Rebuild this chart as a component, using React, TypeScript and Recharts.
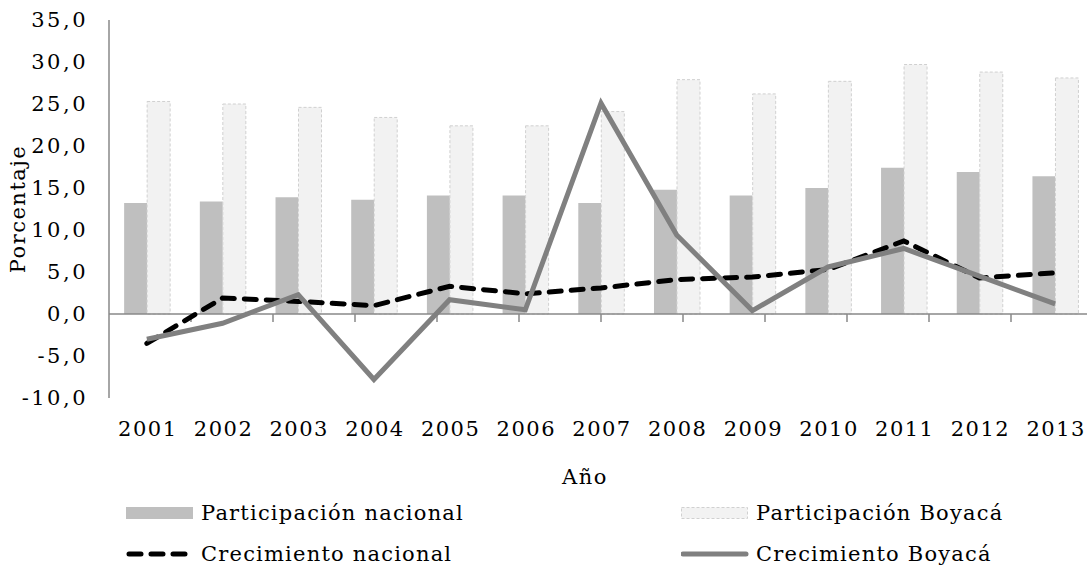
import { Bar, ComposedChart, Line, ReferenceLine, XAxis, YAxis } from 'recharts'

const years = ['2001', '2002', '2003', '2004', '2005', '2006', '2007', '2008', '2009', '2010', '2011', '2012', '2013']
const participacionNacional = [13.2, 13.4, 13.9, 13.6, 14.1, 14.1, 13.2, 14.8, 14.1, 15.0, 17.4, 16.9, 16.4]
const participacionBoyaca = [25.3, 25.0, 24.6, 23.4, 22.4, 22.4, 24.1, 27.9, 26.2, 27.7, 29.7, 28.8, 28.1]
const crecimientoNacional = [-3.5, 1.9, 1.5, 1.0, 3.3, 2.4, 3.1, 4.1, 4.4, 5.3, 8.7, 4.3, 4.9]
const crecimientoBoyaca = [-3.0, -1.1, 2.3, -7.8, 1.7, 0.5, 25.1, 9.4, 0.4, 5.6, 7.8, 4.5, 1.2]
const yTicks = [-10, -5, 0, 5, 10, 15, 20, 25, 30, 35]

const data = years.map((year, i) => ({
  year,
  partNac: participacionNacional[i],
  partBoy: participacionBoyaca[i],
  crecNac: crecimientoNacional[i],
  crecBoy: crecimientoBoyaca[i],
}))

// category boundaries, for the Excel-style ticks between years
const boundaries = years.slice(1).map((_, i) => i + 1)

const FONT = '"DejaVu Serif", serif'
const AXIS = '#898989'
const textStyle = { fontFamily: FONT, fontSize: 21, fill: '#000', letterSpacing: '1.5px' }

const fmt = (v: number) => v.toFixed(1).replace('.', ',')

function Swatch({ kind }: { kind: string }) {
  return (
    <svg width={68} height={14} style={{ display: 'block' }}>
      {kind === 'barNac' && <rect x={0} y={1} width={67} height={12} fill="#bfbfbf" />}
      {kind === 'barBoy' && (
        <rect x={0.5} y={1.5} width={66} height={11} fill="#f2f2f2" stroke="#d0d0d0" strokeDasharray="3 2" />
      )}
      {kind === 'lineNac' && (
        <line x1={3} y1={7} x2={64} y2={7} stroke="#000" strokeWidth={5} strokeDasharray="12 10" strokeLinecap="round" />
      )}
      {kind === 'lineBoy' && <line x1={2} y1={7} x2={65} y2={7} stroke="#808080" strokeWidth={5} strokeLinecap="round" />}
    </svg>
  )
}

function LegendItem({ kind, label, x, y }: { kind: string; label: string; x: number; y: number }) {
  return (
    <div style={{ position: 'absolute', left: x, top: y - 12, height: 24, display: 'flex', alignItems: 'center' }}>
      <Swatch kind={kind} />
      <span
        style={{ marginLeft: 7, fontFamily: FONT, fontSize: 21, letterSpacing: '1.2px', color: '#000', whiteSpace: 'nowrap' }}
      >
        {label}
      </span>
    </div>
  )
}

export default function App() {
  return (
    <div style={{ position: 'absolute', left: 0, top: 0, width: 1087, height: 570, overflow: 'hidden', background: '#fff' }}>
      <ComposedChart
        width={1100}
        height={570}
        data={data}
        margin={{ top: 20, right: 7, bottom: 52, left: 0 }}
        barCategoryGap="20%"
        barGap={0}
      >
        <XAxis
          dataKey="year"
          axisLine={false}
          tickLine={false}
          tickSize={0}
          tickMargin={23}
          height={120}
          tick={{ ...textStyle, dx: 1 }}
          label={{ value: 'Año', position: 'insideBottom', offset: 34, dx: -16, style: textStyle }}
        />
        <XAxis xAxisId="bounds" type="number" domain={[0, 13]} hide />
        <YAxis
          domain={[-10, 35]}
          ticks={yTicks}
          interval={0}
          width={109}
          tickFormatter={fmt}
          axisLine={{ stroke: AXIS, strokeWidth: 1.5 }}
          tickLine={false}
          tickSize={0}
          tickMargin={21}
          tick={{ ...textStyle, letterSpacing: '2.5px' }}
          label={{
            value: 'Porcentaje',
            angle: -90,
            position: 'insideLeft',
            offset: 18,
            style: { ...textStyle, textAnchor: 'middle' },
          }}
        />
        <Bar dataKey="partNac" fill="#bfbfbf" isAnimationActive={false} />
        <Bar dataKey="partBoy" fill="#f2f2f2" stroke="#d0d0d0" strokeDasharray="3 2" isAnimationActive={false} />
        <ReferenceLine y={0} stroke={AXIS} strokeWidth={1.5} />
        {boundaries.map((b) => (
          <ReferenceLine
            key={b}
            xAxisId="bounds"
            segment={[
              { x: b, y: 0 },
              { x: b, y: -0.95 },
            ]}
            stroke={AXIS}
            strokeWidth={1.5}
          />
        ))}
        <Line
          dataKey="crecNac"
          stroke="#000"
          strokeWidth={5}
          strokeDasharray="12 10"
          strokeLinecap="round"
          dot={false}
          isAnimationActive={false}
        />
        <Line dataKey="crecBoy" stroke="#808080" strokeWidth={5} dot={false} isAnimationActive={false} />
      </ComposedChart>
      <LegendItem kind="barNac" label="Participación nacional" x={126} y={513} />
      <LegendItem kind="barBoy" label="Participación Boyacá" x={681} y={513} />
      <LegendItem kind="lineNac" label="Crecimiento nacional" x={126} y={554} />
      <LegendItem kind="lineBoy" label="Crecimiento Boyacá" x={681} y={554} />
    </div>
  )
}
